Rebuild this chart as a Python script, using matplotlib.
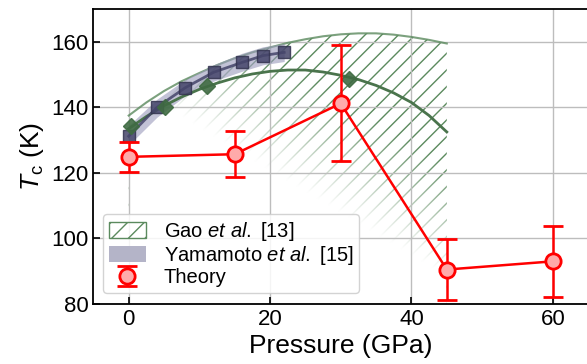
import numpy as np
import matplotlib.pyplot as plt
from matplotlib.patches import Patch

plt.rcParams['font.family'] = ['Liberation Sans', 'DejaVu Sans']
plt.rcParams['mathtext.fontset'] = 'custom'
plt.rcParams['mathtext.rm'] = 'Liberation Sans'
plt.rcParams['mathtext.it'] = 'Liberation Sans:italic'
plt.rcParams['hatch.linewidth'] = 1.0

# Theory (this work)
theory_p = [0, 15, 30, 45, 60]
theory_tc = [124.9, 125.7, 141.2, 90.5, 93.0]
theory_err = [4.6, 7.0, 17.7, 9.4, 10.8]

# Gao et al. [13]: measured points, fit curve and upper bound of hatched region
gao_p = [0.3, 5.1, 11.1, 31.2]
gao_tc = [134.3, 140.2, 146.5, 148.7]
gao_curve_p = [0, 2.5, 5, 7.5, 10, 12.5, 15, 17.5, 20, 22.5,
               25, 27.5, 30, 32.5, 35, 37.5, 40, 42.5, 45]
gao_curve_tc = [133.5, 137.2, 140.5, 143.2, 145.5, 147.4, 149.0, 150.2, 151.0, 151.4,
                151.4, 150.8, 149.8, 148.5, 146.7, 144.4, 141.5, 137.5, 132.5]
gao_upper_tc = [137.5, 141.5, 145.0, 148.0, 150.5, 152.9, 155.0, 156.8, 158.3, 159.7,
                160.8, 161.7, 162.3, 162.6, 162.6, 162.2, 161.5, 160.6, 159.5]

# Yamamoto et al. [15]
yam_p = [0, 4, 8, 12, 16, 19, 22]
yam_tc = [131.2, 140.0, 146.0, 150.7, 153.7, 155.8, 156.8]
yam_lower = [128.5, 137.0, 143.5, 148.0, 151.0, 153.0, 154.0]
yam_upper = [134.5, 142.5, 148.5, 153.0, 156.5, 158.5, 159.5]

green = '#5b8a5e'
dark_green = '#4a744c'
navy = '#45456a'

fig = plt.figure(figsize=(5.87, 3.64), dpi=100)
ax = fig.add_axes([0.159, 0.165, 0.843, 0.810])

# hatched Gao region, faded towards lower left
hatch_fill = ax.fill_between(gao_curve_p, 80, gao_upper_tc, facecolor='none',
                             edgecolor=green, hatch='//', linewidth=0, zorder=1)
xx, yy = np.meshgrid(np.linspace(-1, 46, 200), np.linspace(80, 170, 200))
strength = np.clip((yy + 1.3 * xx - 147) / 35, 0, 1)
fade = np.ones(xx.shape + (4,))
fade[..., 3] = 1 - strength
im = ax.imshow(fade, extent=(-1, 46, 80, 170), origin='lower', aspect='auto',
               interpolation='bilinear', zorder=1.2)
im.set_clip_path(hatch_fill.get_paths()[0], transform=ax.transData)
ax.plot(gao_curve_p, gao_upper_tc, color=green, lw=1.5, alpha=0.8, zorder=2)

# Yamamoto band and points
ax.fill_between(yam_p, yam_lower, yam_upper, color='#9a9abb', alpha=0.6,
                linewidth=0, zorder=2)
ax.plot(yam_p, yam_tc, color=navy, lw=2, marker='s', ms=9,
        mfc=navy, mec='#33334f', alpha=0.85, zorder=3)

# Gao fit and points
ax.plot(gao_curve_p, gao_curve_tc, color=dark_green, lw=2, zorder=2.5)
ax.plot(gao_p, gao_tc, ls='none', marker='D', ms=8.5, color='#3f6b42',
        alpha=0.9, zorder=3.5)

# Theory
ax.plot(theory_p, theory_tc, color='red', lw=1.8, zorder=4)
ax.errorbar(theory_p, theory_tc, yerr=theory_err, fmt='o', color='red',
            ms=11, mfc='#ffaaaa', mec='red', mew=2, elinewidth=1.8,
            capsize=7, capthick=1.8, zorder=5, label='Theory')

ax.set_xlim(-5, 65)
ax.set_ylim(80, 170)
ax.set_xticks([0, 20, 40, 60])
ax.set_yticks([80, 100, 120, 140, 160])
ax.grid(True, color='#bdbdbd', lw=1)
ax.tick_params(direction='in', length=5, width=1.2, labelsize=16)
for s in ax.spines.values():
    s.set_linewidth(1.3)
ax.spines['right'].set_visible(False)

ax.set_xlabel('Pressure (GPa)', fontsize=19, labelpad=3)
ax.set_ylabel(r'$T_\mathrm{c}$ (K)', fontsize=19, labelpad=4)

handles = [Patch(facecolor='none', edgecolor=green, hatch='//', lw=1),
           Patch(facecolor='#b4b4c8', edgecolor='none'),
           ax.get_legend_handles_labels()[0][0]]
labels = [r'Gao $et\ al.$ [13]', r'Yamamoto $et\ al.$ [15]', 'Theory']
ax.legend(handles, labels, loc='lower left', bbox_to_anchor=(0.02, 0.036),
          borderaxespad=0, fontsize=14.5, handlelength=1.8, handleheight=0.9,
          labelspacing=0.05, borderpad=0.3, handletextpad=0.9,
          framealpha=0.85, edgecolor='#cccccc')

fig.savefig('out.png')
